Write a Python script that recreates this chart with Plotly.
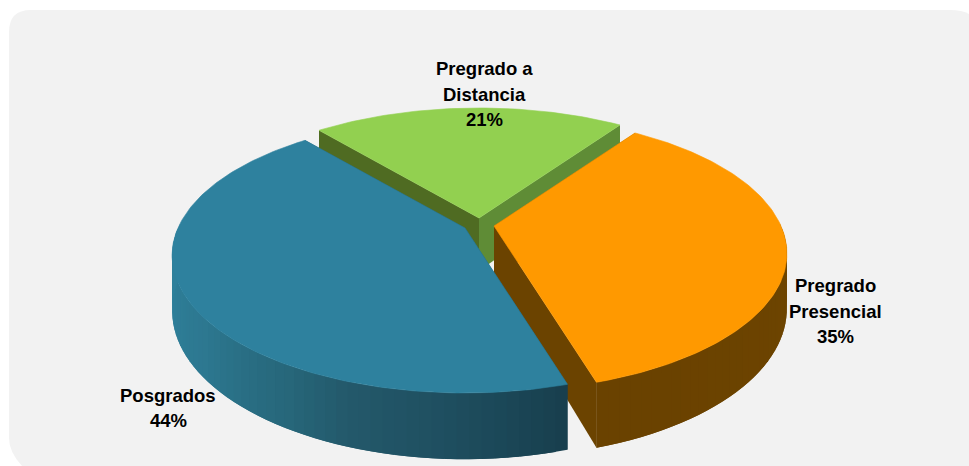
import math
import plotly.graph_objects as go

# ---- data ----
categories = ["Pregrado a<br>Distancia", "Pregrado<br>Presencial", "Posgrados"]
values = [20.8, 35.65, 43.55]
percent_labels = ["21%", "35%", "44%"]
top_colors = ["#92d050", "#ff9900", "#2e819e"]
cut_colors = [("#4f6b22", "#5f8c36"), ("#6b4300", "#6b4300"), ("#183f4e", "#183f4e")]
wall_stops = [
    [(0.0, "#5f8c36"), (1.0, "#5f8c36")],
    [(0.0, "#6a4200"), (0.5, "#6e4500"), (1.0, "#6a4200")],
    [(0.0, "#183f4e"), (0.125, "#1f4f60"), (0.23, "#24596b"), (0.3, "#27677a"),
     (0.44, "#2d7890"), (0.59, "#2f809b"), (1.0, "#2f819c")],
]
apexes = [(479, 218), (494, 226), (465, 228)]
label_pos = [(484, 94), (835, 311), (168, 408)]

# ---- projection parameters ----
A, B, K, D = 287.0, 132.0, 0.2, 53.0
ROT = -40.0
BG = "#f2f2f2"
LINE_STEP = 25.5


def proj(u, v, h, ax, ay):
    w = 1 - K * v
    x0 = A * u / w
    y0 = (B * v + D * h) / w
    return ax + x0, ay + y0


def hex2rgb(c):
    return tuple(int(c[i:i + 2], 16) for i in (1, 3, 5))


def mix(stops, t):
    for (t0, c0), (t1, c1) in zip(stops, stops[1:]):
        if t <= t1:
            f = (t - t0) / (t1 - t0)
            a, b = hex2rgb(c0), hex2rgb(c1)
            return "rgb(%d,%d,%d)" % tuple(a[i] + (b[i] - a[i]) * f for i in range(3))
    return stops[-1][1]


def poly(fig, pts, color, stroke=0.6):
    xs = [p[0] for p in pts] + [pts[0][0]]
    ys = [p[1] for p in pts] + [pts[0][1]]
    fig.add_trace(go.Scatter(x=xs, y=ys, mode="lines", fill="toself", fillcolor=color,
                             line=dict(color=color, width=stroke), hoverinfo="skip", showlegend=False))


fig = go.Figure()
total = sum(values)
start = ROT
for i, val in enumerate(values):
    sweep = 360.0 * val / total
    end = start + sweep
    ax, ay = apexes[i]
    rim = lambda deg, h: proj(math.sin(math.radians(deg)), -math.cos(math.radians(deg)), h, ax, ay)
    centre = lambda h: (ax, ay + D * h)
    # cut faces first, so that the outer wall and the top lie over them
    poly(fig, [centre(0), rim(start, 0), rim(start, 1), centre(1)], cut_colors[i][0], stroke=0)
    poly(fig, [centre(0), rim(end, 0), rim(end, 1), centre(1)], cut_colors[i][1], stroke=0)
    # outer wall strips, each overlapping the next so that no seam shows;
    # strips on the far half of the disc face away from the viewer
    n = max(8, int(sweep / 2.0))
    for j in range(n):
        a0 = start + sweep * j / n
        a1 = min(end, start + sweep * (j + 2) / n)
        if -math.cos(math.radians((a0 + a1) / 2)) < 0:
            continue
        poly(fig, [rim(a0, 0), rim(a1, 0), rim(a1, 1), rim(a0, 1)], mix(wall_stops[i], (j + 0.5) / n), stroke=0)
    # top
    m = max(30, int(sweep))
    pts = [centre(0)] + [rim(start + sweep * j / m, 0) for j in range(m + 1)]
    poly(fig, pts, top_colors[i])
    start = end

annotations = []
for cat, pct, (lx, ly) in zip(categories, percent_labels, label_pos):
    lines = cat.split("<br>") + [pct]
    for k, line in enumerate(lines):
        annotations.append(dict(x=lx, y=ly + (k - (len(lines) - 1) / 2) * LINE_STEP, xref="x", yref="y",
                                showarrow=False, align="center", text="<b>%s</b>" % line,
                                font=dict(family="Liberation Sans", size=18.5, color="#000000")))

fig.update_layout(
    width=969, height=466, margin=dict(l=0, r=0, t=0, b=0),
    paper_bgcolor="#ffffff", plot_bgcolor="rgba(0,0,0,0)", showlegend=False,
    xaxis=dict(range=[0, 969], visible=False, fixedrange=True),
    yaxis=dict(range=[466, 0], visible=False, fixedrange=True),
    annotations=annotations,
    shapes=[dict(type="path", xref="x", yref="y", layer="below", line=dict(width=0), fillcolor=BG,
                 path="M 9,32 Q 9,10 31,10 L 950,10 Q 962,10 969,14 L 969,466 L 22,466 Q 9,452 9,438 Z")],
)
fig.write_html("out.html", config=dict(displayModeBar=False),
               post_script="document.body.style.margin='0';document.body.style.overflow='hidden';")
